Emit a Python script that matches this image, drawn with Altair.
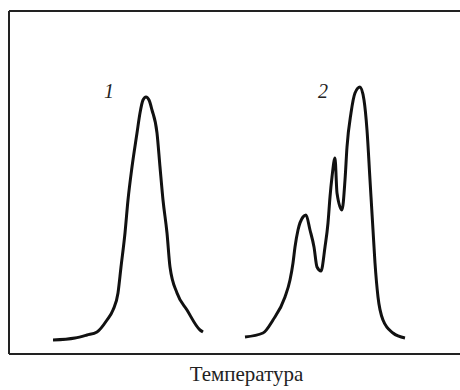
import altair as alt
import pandas as pd

# Curve 1 (temperature, signal) in arbitrary units
t1 = [44, 66, 78, 88, 98, 104, 109, 112, 116, 119, 123, 128, 131, 134, 137, 140, 143, 148, 151, 154,
      158, 161, 168, 178, 191, 194]
s1 = [14, 16, 19, 22, 34, 44, 61, 87, 121, 154, 187, 221, 241, 254, 257, 254, 244, 221, 187, 154,
      121, 87, 61, 44, 24, 22]

# Curve 2
t2 = [236, 254, 264, 276, 281, 284, 286, 289, 294, 297, 301, 305, 308, 312, 316, 319, 321, 323, 326, 328,
      333, 336, 338, 342, 346, 351, 355, 358, 361, 364, 366, 369, 374, 384, 396]
s2 = [17, 21, 34, 57, 74, 91, 107, 124, 137, 139, 124, 107, 87, 83, 107, 131, 157, 177, 196, 161,
      144, 174, 207, 241, 261, 267, 254, 224, 174, 124, 91, 57, 34, 21, 16]

labels = ["1", "2"]
label_t = [100, 314]
label_s = [256, 256]

SERIF = "Liberation Serif"

df = pd.concat([
    pd.DataFrame({"t": t1, "s": s1, "curve": "1"}),
    pd.DataFrame({"t": t2, "s": s2, "curve": "2"}),
])
lab = pd.DataFrame({"t": label_t, "s": label_s, "label": labels})

W, H = 451, 343
xs = alt.Scale(domain=[0, W], nice=False, zero=False)
ys = alt.Scale(domain=[0, H], nice=False, zero=False)

lines = alt.Chart(df).mark_line(color="#111111", strokeWidth=3, interpolate="monotone").encode(
    x=alt.X("t:Q", scale=xs,
            axis=alt.Axis(title="Температура", domain=False, ticks=False, labels=False, grid=False,
                          titleFont=SERIF, titleFontSize=21, titleFontWeight="normal",
                          titleColor="#222222", titleX=237, titleY=26, titleBaseline="alphabetic")),
    y=alt.Y("s:Q", scale=ys, axis=None),
    detail="curve:N",
)

texts = alt.Chart(lab).mark_text(font=SERIF, fontSize=20, fontStyle="italic",
                                 color="#222222", baseline="alphabetic", align="center").encode(
    x=alt.X("t:Q", scale=xs), y=alt.Y("s:Q", scale=ys), text="label:N")

frame_top = alt.Chart(df).mark_rule(color="#222222", strokeWidth=2).encode(
    x=alt.value(0), x2=alt.value(W), y=alt.value(0))
frame_bottom = alt.Chart(df).mark_rule(color="#222222", strokeWidth=2).encode(
    x=alt.value(0), x2=alt.value(W), y=alt.value(H))
frame_left = alt.Chart(df).mark_rule(color="#222222", strokeWidth=2).encode(
    x=alt.value(0), y=alt.value(0), y2=alt.value(H))

chart = alt.layer(frame_top, frame_bottom, frame_left, lines, texts).properties(
    width=W, height=H,
    autosize=alt.AutoSizeParams(type="none"),
    padding={"left": 9, "top": 11, "right": 0, "bottom": 36},
).configure_view(stroke=None).configure(background="white")

chart.save("out.html", embed_options={"renderer": "svg", "actions": False})
